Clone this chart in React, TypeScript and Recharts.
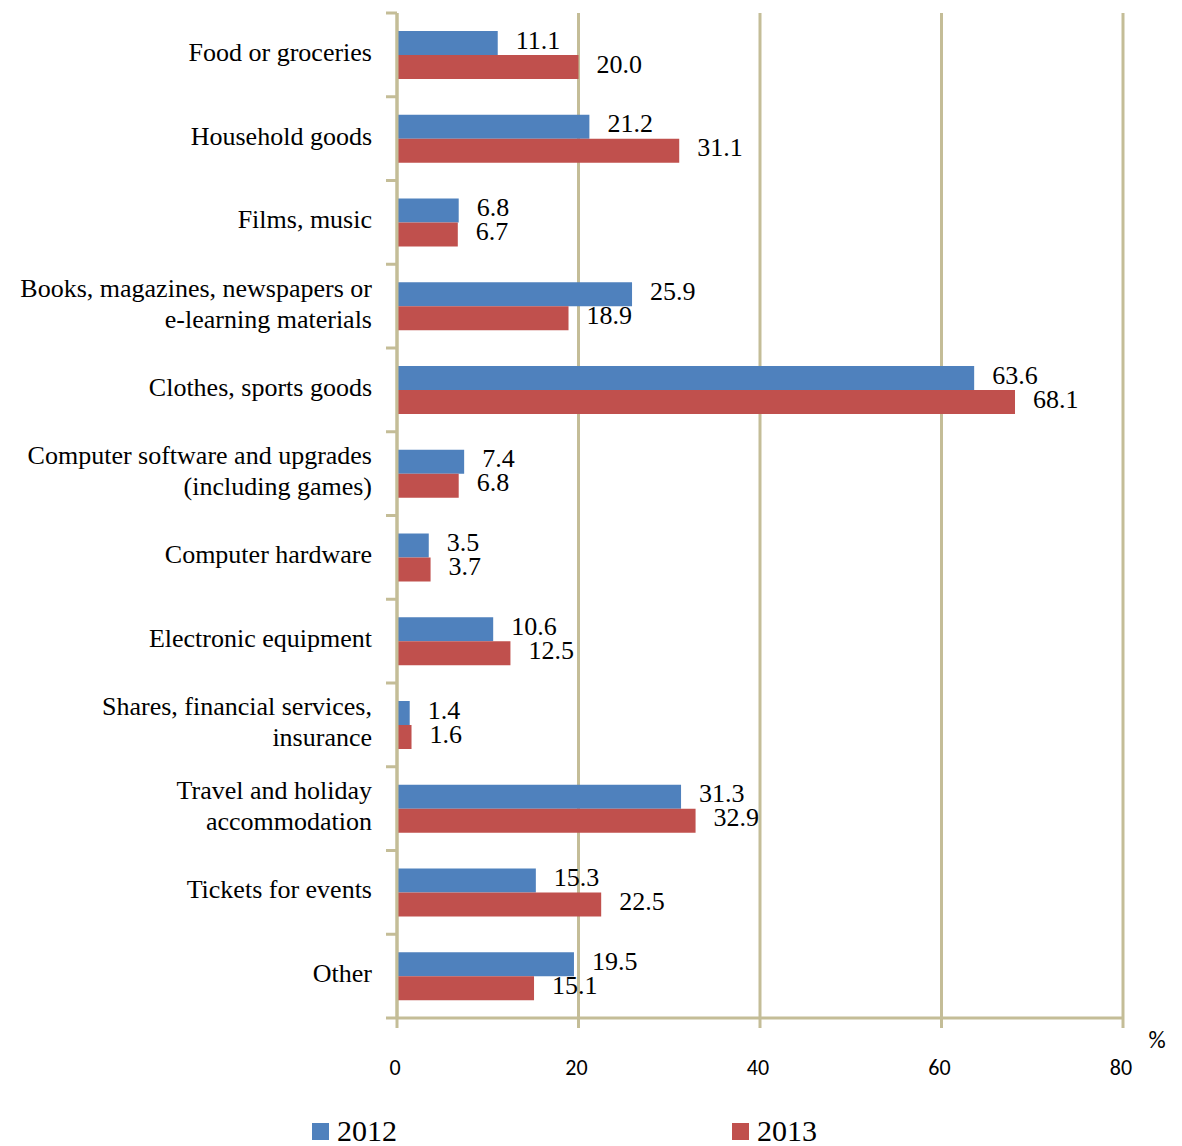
import { BarChart, Bar, XAxis, YAxis, CartesianGrid, LabelList } from "recharts";

const CATEGORIES = [
  "Food or groceries",
  "Household goods",
  "Films, music",
  "Books, magazines, newspapers or\ne-learning materials",
  "Clothes, sports goods",
  "Computer software and upgrades\n(including games)",
  "Computer hardware",
  "Electronic equipment",
  "Shares, financial services,\ninsurance",
  "Travel and holiday\naccommodation",
  "Tickets for events",
  "Other",
];

const SHARE_2012 = [11.1, 21.2, 6.8, 25.9, 63.6, 7.4, 3.5, 10.6, 1.4, 31.3, 15.3, 19.5];
const SHARE_2013 = [20.0, 31.1, 6.7, 18.9, 68.1, 6.8, 3.7, 12.5, 1.6, 32.9, 22.5, 15.1];

const X_TICKS = [0, 20, 40, 60, 80];
const SERIES = ["2012", "2013"];

const COLORS = ["#4F81BD", "#C0504D"];
const AXIS = "#C4BD97";
const SERIF = '"Times New Roman", "Liberation Serif", serif';
const SANS = 'Calibri, "Liberation Sans", Arial, sans-serif';

const W = 1182;
const H = 1146;
const MARGIN = { top: 13, right: 59, bottom: 68, left: 0 };
const Y_AXIS_W = 397;
const X_AXIS_H = 60;
const PLOT_LEFT = MARGIN.left + Y_AXIS_W;
const PLOT_H = H - MARGIN.top - MARGIN.bottom - X_AXIS_H;
const LINE_H = 31;

const data = CATEGORIES.map((name, i) => ({
  name,
  y2012: SHARE_2012[i],
  y2013: SHARE_2013[i],
}));

// category names, with the small tick marks sitting on the band edges
const CategoryTick = (props: any) => {
  const { y, payload, index } = props;
  const lines = String(payload.value).split("\n");
  const band = PLOT_H / CATEGORIES.length;
  const top = y - band / 2;
  const firstY = y - 3 - ((lines.length - 1) * LINE_H) / 2;
  return (
    <g>
      <line x1={PLOT_LEFT - 11} x2={PLOT_LEFT} y1={top} y2={top} stroke={AXIS} strokeWidth={3} />
      {index === CATEGORIES.length - 1 && (
        <line x1={PLOT_LEFT - 11} x2={PLOT_LEFT} y1={top + band} y2={top + band} stroke={AXIS} strokeWidth={3} />
      )}
      <text
        x={PLOT_LEFT - 25}
        y={firstY}
        textAnchor="end"
        dominantBaseline="central"
        fontFamily={SERIF}
        fontSize={26}
        fill="#000"
      >
        {lines.map((line, i) => (
          <tspan key={i} x={PLOT_LEFT - 25} dy={i === 0 ? 0 : LINE_H}>
            {line}
          </tspan>
        ))}
      </text>
    </g>
  );
};

const ValueTick = (props: any) => {
  const { x, payload } = props;
  return (
    <text x={x - 2} y={1075} textAnchor="middle" fontFamily={SANS} fontSize={22} fill="#000">
      {payload.value}
    </text>
  );
};

const ValueLabel = (props: any) => {
  const { x, y, width, height, value } = props;
  return (
    <text
      x={x + width + 18}
      y={y + height / 2 - 3}
      dominantBaseline="central"
      fontFamily={SERIF}
      fontSize={26}
      fill="#000"
    >
      {Number(value).toFixed(1)}
    </text>
  );
};

const PercentLabel = (props: any) => {
  const { viewBox } = props;
  return (
    <text
      x={viewBox.x + viewBox.width + 34}
      y={viewBox.y + 30}
      textAnchor="middle"
      fontFamily={SANS}
      fontSize={24}
      fill="#000"
    >
      %
    </text>
  );
};

const LEGEND_X = [312, 732];

export default function App() {
  return (
    <div style={{ position: "absolute", left: 0, top: 0, width: W, height: H, background: "#fff" }}>
      <BarChart
        width={W}
        height={H}
        data={data}
        layout="vertical"
        margin={MARGIN}
        barSize={24}
        barGap={0}
      >
        <CartesianGrid horizontal={false} stroke={AXIS} strokeWidth={3} />
        <XAxis
          type="number"
          domain={[0, 80]}
          ticks={X_TICKS}
          height={X_AXIS_H}
          axisLine={{ stroke: AXIS, strokeWidth: 3 }}
          tickLine={{ stroke: AXIS, strokeWidth: 3 }}
          tickSize={10}
          tick={<ValueTick />}
          label={<PercentLabel />}
        />
        <YAxis
          type="category"
          dataKey="name"
          width={Y_AXIS_W}
          axisLine={{ stroke: AXIS, strokeWidth: 3 }}
          tickLine={false}
          tick={<CategoryTick />}
          interval={0}
        />
        <Bar dataKey="y2012" fill={COLORS[0]} isAnimationActive={false}>
          <LabelList dataKey="y2012" content={<ValueLabel />} />
        </Bar>
        <Bar dataKey="y2013" fill={COLORS[1]} isAnimationActive={false}>
          <LabelList dataKey="y2013" content={<ValueLabel />} />
        </Bar>
      </BarChart>
      <svg
        width={W}
        height={40}
        style={{ position: "absolute", left: 0, top: H - 40 }}
      >
        {SERIES.map((s, i) => (
          <g key={s}>
            <rect x={LEGEND_X[i]} y={17} width={17} height={17} fill={COLORS[i]} />
            <text x={LEGEND_X[i] + 25} y={35} fontFamily={SERIF} fontSize={30} fill="#000">
              {s}
            </text>
          </g>
        ))}
      </svg>
    </div>
  );
}
